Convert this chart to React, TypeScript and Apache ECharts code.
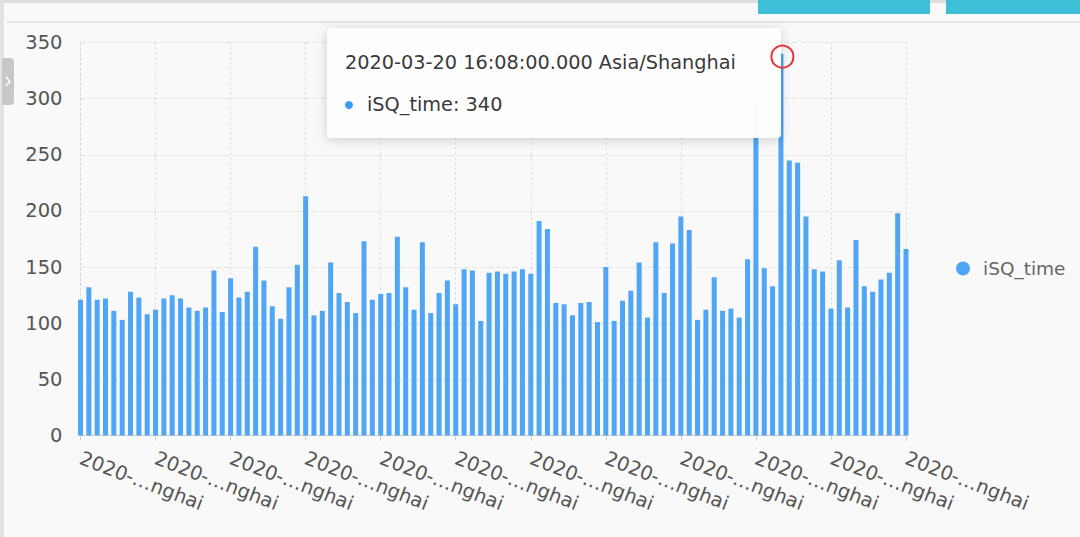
import React, { useEffect, useRef } from "react";
import * as echarts from "echarts";

const seriesName = "iSQ_time";
const startTime = "2020-03-20 14:44:00";
const stepMinutes = 1;

const values: number[] = [
  121, 132, 121, 122, 111, 103, 128, 123, 108, 112,
  122, 125, 122, 114, 111, 114, 147, 110, 140, 123,
  128, 168, 138, 115, 104, 132, 152, 213, 107, 111,
  154, 127, 119, 109, 173, 121, 126, 127, 177, 132,
  112, 172, 109, 127, 138, 117, 148, 147, 102, 145,
  146, 144, 146, 148, 144, 191, 184, 118, 117, 107,
  118, 119, 101, 150, 102, 120, 129, 154, 105, 172,
  127, 171, 195, 183, 103, 112, 141, 111, 113, 105,
  157, 294, 149, 133, 340, 245, 243, 195, 148, 146,
  113, 156, 114, 174, 133, 128, 139, 145, 198, 166,
];

const yTicks = [0, 50, 100, 150, 200, 250, 300, 350];
const highlightIndex = 84;

function pad(n: number) {
  return n < 10 ? "0" + n : "" + n;
}

function buildCategories(): string[] {
  const [d, t] = startTime.split(" ");
  const [hh, mm] = t.split(":").map(Number);
  const out: string[] = [];
  for (let i = 0; i < values.length; i++) {
    const total = hh * 60 + mm + i * stepMinutes;
    const h = Math.floor(total / 60);
    const m = total % 60;
    out.push(`${d} ${pad(h)}:${pad(m)}:00.000 Asia/Shanghai`);
  }
  return out;
}

const categories = buildCategories();

const FONT = "DejaVu Sans";
const BAR = "#50a6f5";

export default function App() {
  const ref = useRef<HTMLDivElement>(null);

  useEffect(() => {
    if (!ref.current) return;
    const chart = echarts.init(ref.current, null, {
      renderer: "svg",
      width: 1080,
      height: 537,
    });

    const frame: any[] = [
      { type: "rect", z: 0, shape: { x: 0, y: 0, width: 1080, height: 3 }, style: { fill: "#dcdcdc" } },
      { type: "rect", z: 0, shape: { x: 758, y: 0, width: 172, height: 14 }, style: { fill: "#3cbfd7" } },
      { type: "rect", z: 0, shape: { x: 946, y: 0, width: 134, height: 14 }, style: { fill: "#3cbfd7" } },
      { type: "rect", z: 0, shape: { x: 7, y: 21, width: 1073, height: 2 }, style: { fill: "#e4e4e4" } },
      { type: "rect", z: 0, shape: { x: 0, y: 0, width: 4, height: 537 }, style: { fill: "#e2e2e2" } },
      { type: "rect", z: 1, shape: { x: 2, y: 58, width: 12, height: 47, r: [0, 4, 4, 0] }, style: { fill: "#c7c7c7" } },
      { type: "polyline", z: 2, shape: { points: [[6, 77], [10, 81.5], [6, 86]] }, style: { stroke: "#ffffff", lineWidth: 1.5, fill: null } },
    ];

    const option: any = {
      animation: false,
      backgroundColor: "#f9f9f9",
      textStyle: { fontFamily: FONT },
      grid: { left: 80.5, right: 174, top: 42.5, bottom: 101.5, containLabel: false },
      legend: {
        orient: "vertical",
        left: 956,
        top: "middle",
        padding: 0,
        itemWidth: 14,
        itemHeight: 14,
        icon: "circle",
        data: [seriesName],
        textStyle: { fontFamily: FONT, fontSize: 18.5, color: "#666", padding: [0, 0, 0, 8] },
      },
      xAxis: {
        type: "category",
        data: categories,
        boundaryGap: false,
        axisLine: { lineStyle: { color: "#cccccc" } },
        axisTick: { interval: 8, length: 5, lineStyle: { color: "#cccccc" } },
        axisLabel: {
          interval: 8,
          rotate: -21,
          margin: 22,
          fontFamily: FONT,
          fontSize: 19.5,
          color: "#555",
          formatter: (v: string) => v.slice(0, 5) + "…" + v.slice(-5),
        },
        splitLine: {
          show: true,
          interval: 8,
          lineStyle: { color: "#d6d6d6", type: [2, 3], width: 1 },
        },
      },
      yAxis: {
        type: "value",
        min: yTicks[0],
        max: yTicks[yTicks.length - 1],
        interval: yTicks[1] - yTicks[0],
        axisLine: { show: true, lineStyle: { color: "#d6d6d6", type: [2, 3] } },
        axisTick: { show: false },
        axisLabel: { fontFamily: FONT, fontSize: 19.5, color: "#555", margin: 18 },
        splitLine: { lineStyle: { color: "#e2e2e2", type: [5, 3] } },
      },
      series: [
        {
          name: seriesName,
          type: "bar",
          data: values,
          barWidth: 5,
          itemStyle: { color: BAR },
        },
      ],
      graphic: frame,
    };

    chart.setOption(option);

    const pt = chart.convertToPixel({ xAxisIndex: 0, yAxisIndex: 0 }, [highlightIndex, values[highlightIndex]]) as number[];

    const tip: any = {
      type: "group",
      z: 100,
      children: [
        {
          type: "rect",
          z: 100,
          shape: { x: 327, y: 28, width: 454, height: 110, r: 4 },
          style: { fill: "rgba(255,255,255,0.96)", shadowBlur: 12, shadowColor: "rgba(0,0,0,0.18)", shadowOffsetY: 2 },
        },
        {
          type: "text",
          z: 101,
          x: 345,
          y: 62,
          style: {
            text: categories[highlightIndex],
            fontFamily: FONT,
            fontSize: 19.3,
            fill: "#3a3a3a",
            verticalAlign: "middle",
          },
        },
        { type: "circle", z: 101, shape: { cx: 349, cy: 105, r: 4 }, style: { fill: "#3d9bf5" } },
        {
          type: "text",
          z: 101,
          x: 367,
          y: 104,
          style: {
            text: `${seriesName}: ${values[highlightIndex]}`,
            fontFamily: FONT,
            fontSize: 19.3,
            fill: "#3a3a3a",
            verticalAlign: "middle",
          },
        },
      ],
    };

    const ring: any = {
      type: "circle",
      z: 102,
      shape: { cx: pt[0] + 1.5, cy: pt[1] + 3, r: 11 },
      style: { fill: null, stroke: "#e5333a", lineWidth: 2 },
    };

    chart.setOption({ graphic: [...frame, tip, ring] }, { replaceMerge: ["graphic"] });

    return () => chart.dispose();
  }, []);

  return (
    <div
      ref={ref}
      style={{ position: "fixed", left: 0, top: 0, width: 1080, height: 537, background: "#f9f9f9" }}
    />
  );
}
